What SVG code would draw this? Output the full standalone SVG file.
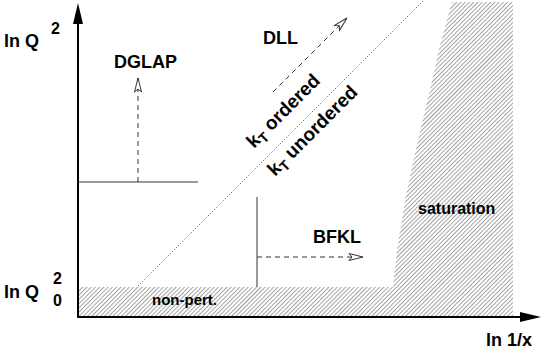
<svg xmlns="http://www.w3.org/2000/svg" width="545" height="352" viewBox="0 0 545 352">
<style>
text{font-family:"Liberation Sans",Arial,sans-serif;font-weight:bold;fill:#000}
.lab{font-size:18px}
.thin{stroke:#333;stroke-width:1;fill:none}
.dash{stroke:#333;stroke-width:1;fill:none;stroke-dasharray:5 4}
.axis{stroke:#000;stroke-width:2;fill:none}
</style>
<defs>
<pattern id="hatch" patternUnits="userSpaceOnUse" width="3" height="3" patternTransform="rotate(45)">
<rect width="3" height="3" fill="#fff"/>
<line x1="0.5" y1="0" x2="0.5" y2="3" stroke="#9a9a9a" stroke-width="0.9"/>
</pattern>
<marker id="open" markerUnits="userSpaceOnUse" markerWidth="16" markerHeight="10" refX="15" refY="4" orient="auto" overflow="visible">
<path d="M15,4 L1,0.5 L4,4 L1,7.5 Z" fill="#fff" stroke="#333" stroke-width="1"/>
</marker>
</defs>
<g id="regions">
<path d="M78,287 L393,287 L397,250 L406,195 L418,140 L430,90 L440,45 L452,2 L513,2 L513,317 L78,317 Z" fill="url(#hatch)"/>
</g>
<g id="axes">
<line class="axis" x1="78" y1="318" x2="78" y2="20"/>
<polygon points="78,3 73,24 83,24" fill="#000"/>
<line class="axis" x1="77" y1="317" x2="524" y2="317"/>
<polygon points="541,317 520,312 520,322" fill="#000"/>
</g>
<g id="connectors">
<line x1="138" y1="286" x2="423" y2="1" stroke="#555" stroke-width="1" stroke-dasharray="1 2"/>
<line class="thin" x1="78" y1="182" x2="198" y2="182"/>
<line class="thin" x1="257" y1="197" x2="257" y2="287"/>
<line class="dash" x1="138" y1="182" x2="138" y2="78" marker-end="url(#open)"/>
<line class="dash" x1="273" y1="92" x2="347" y2="18" marker-end="url(#open)"/>
<line class="dash" x1="257" y1="257" x2="363" y2="257" marker-end="url(#open)"/>
</g>
<g id="axis-labels">
<text class="lab" x="4" y="47">ln Q</text>
<text x="51" y="34" font-size="16">2</text>
<text class="lab" x="4" y="298">ln Q</text>
<text x="53" y="284" font-size="16">2</text>
<text x="53" y="306" font-size="16">0</text>
<text class="lab" x="486" y="346">ln 1/x</text>
</g>
<g id="dglap"><text class="lab" x="114" y="68">DGLAP</text></g>
<g id="dll"><text class="lab" x="263" y="44">DLL</text></g>
<g id="bfkl"><text class="lab" x="313" y="243">BFKL</text></g>
<g id="saturation"><text x="418" y="214" font-size="16">saturation</text></g>
<g id="nonpert"><text x="152" y="305" font-size="15">non-pert.</text></g>
<g id="kt-ordered"><text font-size="19" transform="translate(254,149) rotate(-45)">k<tspan font-size="14" dy="4">T</tspan><tspan dy="-4"> ordered</tspan></text></g>
<g id="kt-unordered"><text font-size="19" transform="translate(275,177) rotate(-45)">k<tspan font-size="14" dy="4">T</tspan><tspan dy="-4"> unordered</tspan></text></g>
</svg>
